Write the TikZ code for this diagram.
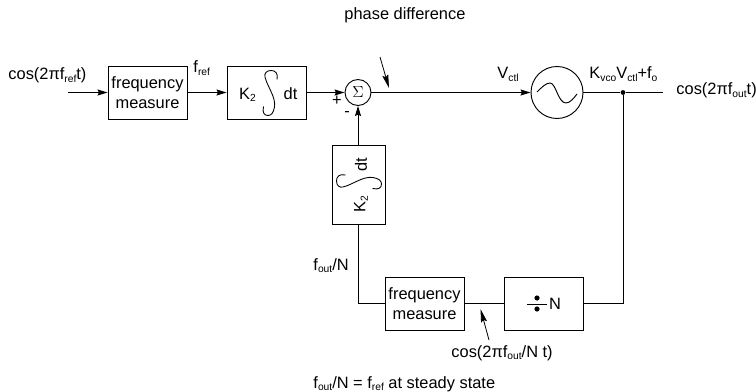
\documentclass[tikz,border=0pt]{standalone}
\usepackage{fontspec}
\setmainfont{Liberation Sans}
\usetikzlibrary{arrows.meta, positioning}
\newcommand{\lowtxt}[1]{\raisebox{-1.9pt}{\fontsize{7.7}{8}\selectfont #1}}

\begin{document}
\begin{tikzpicture}[
    x=0.75pt, y=-0.75pt,
    line width=0.7pt,
    every node/.style={font=\fontsize{12.3}{15}\selectfont},
    block/.style={rectangle, minimum width=59.25pt, minimum height=39.75pt, inner sep=0pt, text centered, align=center, draw=black},
    vblock/.style={block, minimum width=39.75pt, minimum height=59.25pt},
    circ/.style={circle, inner sep=0pt, draw=black},
    label/.style={anchor=base west, inner sep=0pt},
    arrow/.style={-{Stealth[length=7.5pt, width=4.5pt, inset=1pt]}},
    pointer/.style={-{Stealth[length=10pt, width=4.5pt, inset=1.5pt]}, line width=0.6pt},
    intsign/.pic={\draw[line width=0.65pt] (7,-13.5) .. controls (8.5,-20) and (5,-22.5) .. (1,-22.5) .. controls (-3.5,-22.5) and (-6,-19.5) .. (-5,-16) .. controls (-2.5,-6) and (6,4) .. (4.5,14) .. controls (3.5,20) and (1,22.5) .. (-2,22.5) .. controls (-5.5,22.5) and (-8,20) .. (-6.5,13.5);}
]
    \useasboundingbox (0,0) rectangle (756,392);

    % Forward path
    \coordinate (in) at (68,92.5);
    \node[block] (fm_ref) at (147.5,92.5) {frequency\\measure};
    \node[block] (k2_fwd) at (266.5,92.5) {};
    \node[circ, minimum size=19.5pt] (sum) at (358,92.5) {$\Sigma$};
    \node[circ, minimum size=39pt] (vco) at (557,92.5) {};
    \node[circle, fill=black, inner sep=0pt, minimum size=3.6pt] (tap) at (623,92.5) {};
    \coordinate (out) at (663,92.5);

    % Feedback path
    \node[vblock] (k2_fb) at (358.5,184.5) {};
    \node[block] (fm_fb) at (424.5,303.5) {frequency\\measure};
    \node[block] (div) at (543.5,303.5) {};

    % Block contents
    \node[inner sep=0pt] (k2_a) at (247.5,95) {K\lowtxt{2}};
    \node[inner sep=0pt] (dt_a) at (290.5,94) {dt};
    \pic at (270,93) {intsign};
    \node[inner sep=0pt, rotate=90] (k2_b) at (361,204) {K\lowtxt{2}};
    \node[inner sep=0pt, rotate=90] (dt_b) at (361,165) {dt};
    \pic[rotate=90] at (359,182) {intsign};
    \node[inner sep=0pt] (div_n) at (555,304) {N};
    \coordinate (bar_l) at (527,304);
    \coordinate (bar_r) at (547,304);
    \draw (bar_l) -- (bar_r);
    \fill (537,298) circle (2.6);
    \fill (537,309) circle (2.6);
    \draw (537,92) .. controls (542,87) and (546,83) .. (550,83) .. controls (556,83) and (558,103) .. (566,103) .. controls (570,103) and (574,98) .. (577,94);

    % Labels
    \node[label] (l_in) at (8,80) {cos(2πf\lowtxt{ref}t)};
    \node[label] (l_fref) at (193,73) {f\lowtxt{ref}};
    \node[label] (l_vctl) at (497,79) {V\lowtxt{ctl}};
    \node[label] (l_kvco) at (589,79) {K\lowtxt{vco}V\lowtxt{ctl}+f\lowtxt{o}};
    \node[label] (l_out) at (676,95) {cos(2πf\lowtxt{out}t)};
    \node[label] (l_phase) at (344,20) {phase difference};
    \node[inner sep=0pt] (l_plus) at (337,101) {+};
    \node[inner sep=0pt] (l_minus) at (347,114) {-};
    \node[label] (l_fout) at (313,270) {f\lowtxt{out}/N};
    \node[label] (l_cos) at (451,357) {cos(2πf\lowtxt{out}/N t)};
    \node[label] (l_steady) at (313,388) {f\lowtxt{out}/N = f\lowtxt{ref} at steady state};

    % Pointers
    \coordinate (ph_from) at (380,57);
    \coordinate (ph_to) at (389,88);
    \coordinate (cos_from) at (489,340);
    \coordinate (cos_to) at (480.5,309);
    \draw[pointer] (ph_from) -- (ph_to);
    \draw[pointer] (cos_from) -- (cos_to);

    % Connections
    \draw[arrow] (in) -- (fm_ref);
    \draw[arrow] (fm_ref) -- (k2_fwd);
    \draw[arrow] (k2_fwd) -- (sum);
    \draw[arrow] (sum) -- (vco);
    \draw (vco) -- (tap) -- (out);
    \draw (tap) |- (div);
    \draw (div) -- (fm_fb);
    \draw (fm_fb) -| (k2_fb);
    \draw[arrow] (k2_fb.north -| sum) -- (sum);

\end{tikzpicture}
\end{document}
